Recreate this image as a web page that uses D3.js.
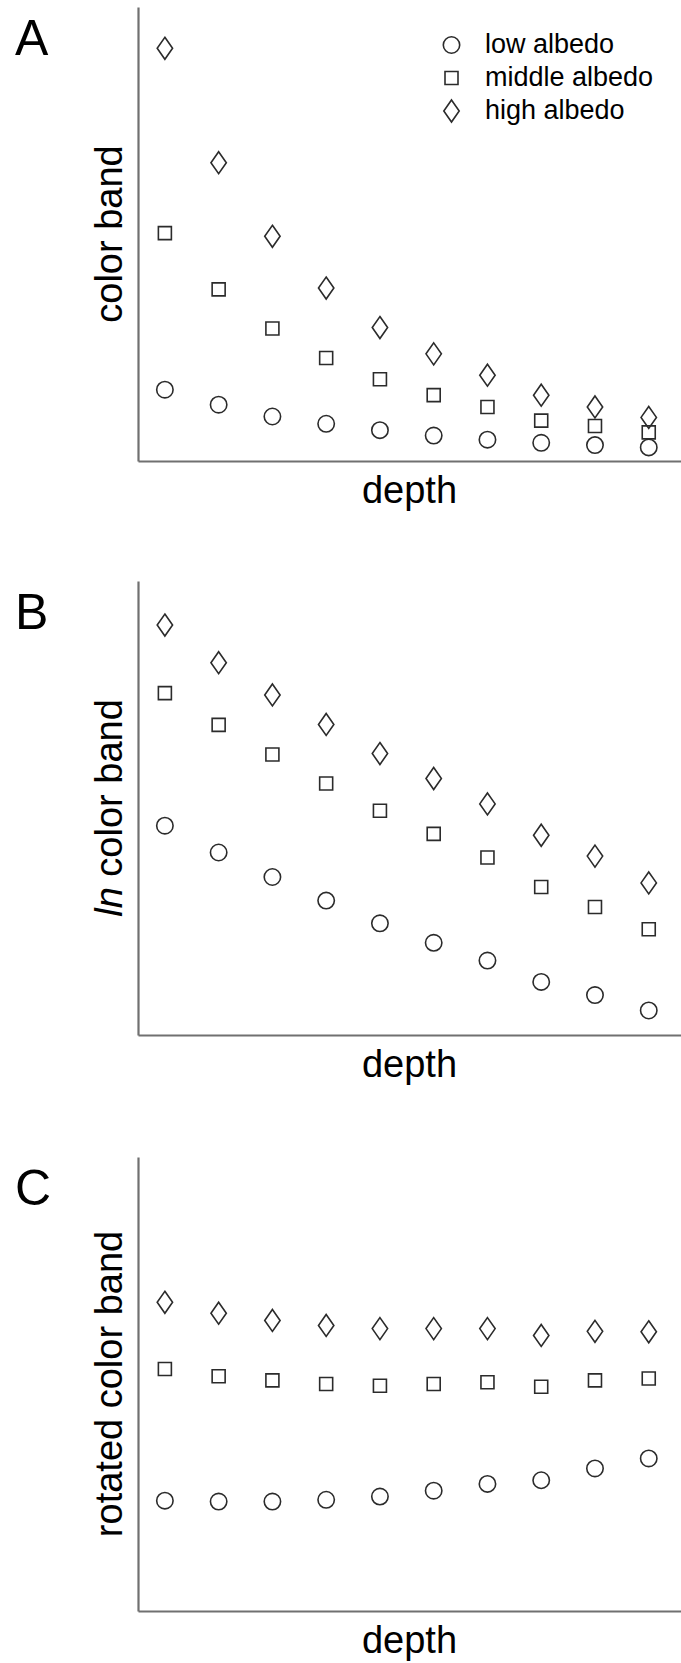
<!DOCTYPE html>
<html>
<head>
<meta charset="utf-8">
<script src="https://cdn.jsdelivr.net/npm/d3@7"></script>
<style>
  body { margin: 0; background: #fff; }
  svg { display: block; }
  text { font-family: "Liberation Sans", Arial, sans-serif; fill: #000; }
</style>
</head>
<body>
<div class="mainDiv"></div>
<script>
// depth steps and the three albedo series (0 = x axis, 100 = top of y axis)
const depth = [1, 2, 3, 4, 5, 6, 7, 8, 9, 10];

const lowA  = [15.7, 12.4, 9.8, 8.2, 6.8, 5.6, 4.7, 4.0, 3.5, 3.0];
const midA  = [50.2, 37.8, 29.2, 22.7, 18.0, 14.5, 11.9, 8.9, 7.7, 6.3];
const highA = [90.9, 65.7, 49.5, 38.1, 29.4, 23.6, 18.9, 14.5, 11.9, 9.6];

const lowB  = [46.1, 40.2, 34.8, 29.6, 24.6, 20.3, 16.4, 11.7, 8.8, 5.4];
const midB  = [75.3, 68.3, 61.8, 55.4, 49.4, 44.3, 39.1, 32.6, 28.2, 23.3];
const highB = [90.3, 82.0, 74.9, 68.4, 62.0, 56.5, 50.9, 44.0, 39.4, 33.5];

const lowC  = [24.3, 24.1, 24.1, 24.5, 25.2, 26.5, 28.0, 28.8, 31.4, 33.6];
const midC  = [53.3, 51.7, 50.8, 50.0, 49.6, 50.0, 50.4, 49.4, 50.8, 51.2];
const highC = [68.0, 65.6, 64.0, 62.9, 62.2, 62.2, 62.2, 60.7, 61.6, 61.5];

const legendLabels = ["low albedo", "middle albedo", "high albedo"];
const panelLetters = ["A", "B", "C"];
const yTitles = ["color band", "ln color band", "rotated color band"];
const xTitle = "depth";

const panels = [
  {letter: panelLetters[0], title: yTitles[0], series: [lowA, midA, highA]},
  {letter: panelLetters[1], title: yTitles[1], series: [lowB, midB, highB]},
  {letter: panelLetters[2], title: yTitles[2], series: [lowC, midC, highC]}
];

const width = 681, height = 1663;
const axisX = 138, plotH = 454;
const panelTops = [7, 581, 1157];
const markStroke = "#2b2b2b";
const axisColor = "#707070";

// tall open diamond like the original glyph
const tallDiamond = {
  draw(ctx, size) {
    const h = Math.sqrt(size) * 0.72, w = h * 0.7;
    ctx.moveTo(0, -h);
    ctx.lineTo(w, 0);
    ctx.lineTo(0, h);
    ctx.lineTo(-w, 0);
    ctx.closePath();
  }
};
const shapes = [
  d3.symbol().type(d3.symbolCircle).size(Math.PI * 8.2 * 8.2),
  d3.symbol().type(d3.symbolSquare).size(13 * 13),
  d3.symbol().type(tallDiamond).size(233)
];

const svg = d3.select('.mainDiv').append('svg')
  .attr('width', width).attr('height', height);

const x = d3.scaleLinear()
  .domain([0.5, 10.6])
  .range([axisX, width]);

panels.forEach((p, i) => {
  const top = panelTops[i], bottom = top + plotH;
  const y = d3.scaleLinear().domain([0, 100]).range([bottom, top]);
  const g = svg.append('g').attr('class', 'panel');

  //axes: bare lines, no ticks
  g.append('g')
    .attr('transform', `translate(0,${bottom})`)
    .call(d3.axisBottom(x).tickValues([]).tickSizeOuter(0))
    .call(a => a.select('.domain').attr('stroke', axisColor).attr('stroke-width', 2.2));
  g.append('g')
    .attr('transform', `translate(${axisX},0)`)
    .call(d3.axisLeft(y).tickValues([]).tickSizeOuter(0))
    .call(a => a.select('.domain').attr('stroke', axisColor).attr('stroke-width', 2.2));

  //markers
  p.series.forEach((vals, s) => {
    g.selectAll(null)
      .data(vals)
      .join('path')
      .attr('d', shapes[s])
      .attr('transform', (d, j) => `translate(${x(depth[j])},${y(d)})`)
      .attr('fill', 'none')
      .attr('stroke', markStroke)
      .attr('stroke-width', 1.6);
  });

  //panel letter
  g.append('text')
    .attr('x', 15).attr('y', top + 48)
    .attr('font-size', 50)
    .text(p.letter);

  //y title
  const yt = g.append('text')
    .attr('transform', `translate(122,${(top + bottom) / 2}) rotate(-90)`)
    .attr('text-anchor', 'middle')
    .attr('font-size', 38);
  if (p.title.startsWith('ln ')) {
    yt.append('tspan').attr('font-style', 'italic').text('ln');
    yt.append('tspan').text(p.title.slice(2));
  } else {
    yt.text(p.title);
  }

  //x title
  g.append('text')
    .attr('x', (axisX + width) / 2).attr('y', bottom + 42)
    .attr('text-anchor', 'middle')
    .attr('font-size', 38)
    .text(xTitle);
});

//legend in panel A
const legend = svg.append('g').attr('class', 'legend');
legendLabels.forEach((lab, i) => {
  const cy = 45 + i * 33;
  legend.append('path')
    .attr('d', shapes[i])
    .attr('transform', `translate(451.5,${cy})`)
    .attr('fill', 'none')
    .attr('stroke', markStroke)
    .attr('stroke-width', 1.6);
  legend.append('text')
    .attr('x', 485).attr('y', cy + 8)
    .attr('font-size', 27)
    .text(lab);
});
</script>
</body>
</html>
